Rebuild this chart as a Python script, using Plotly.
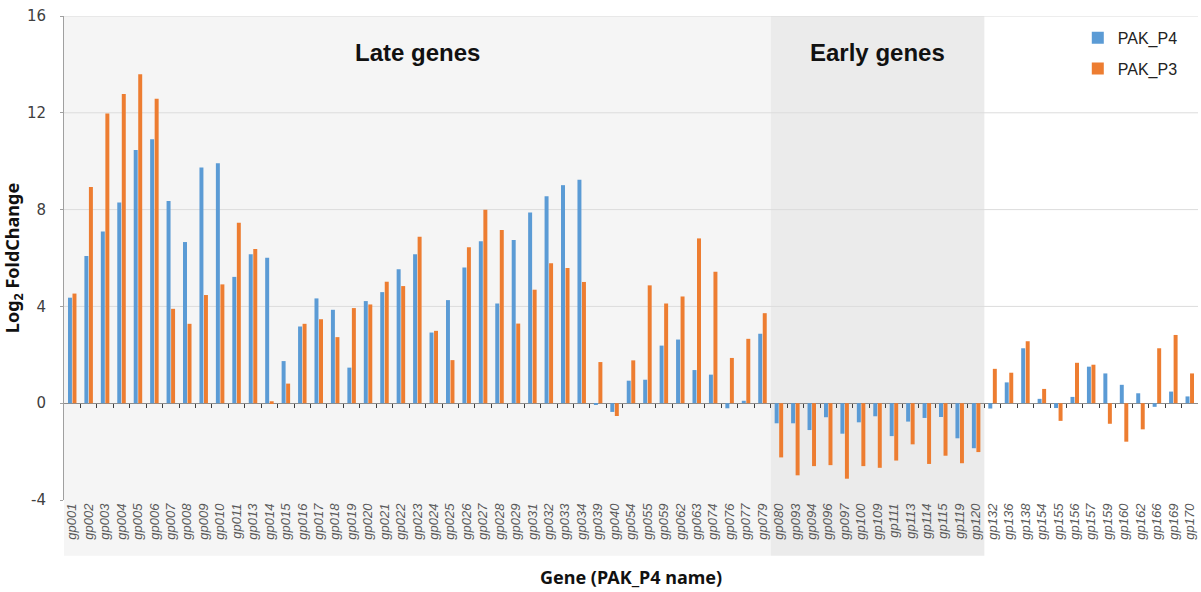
import plotly.graph_objects as go

# Gene groups (PAK_P4 gene names)
late_genes = ["gp001", "gp002", "gp003", "gp004", "gp005", "gp006", "gp007", "gp008",
              "gp009", "gp010", "gp011", "gp013", "gp014", "gp015", "gp016", "gp017",
              "gp018", "gp019", "gp020", "gp021", "gp022", "gp023", "gp024", "gp025",
              "gp026", "gp027", "gp028", "gp029", "gp031", "gp032", "gp033", "gp034",
              "gp039", "gp040", "gp054", "gp055", "gp059", "gp062", "gp063", "gp074",
              "gp076", "gp077", "gp079"]
early_genes = ["gp080", "gp093", "gp094", "gp096", "gp097", "gp100", "gp109", "gp111",
               "gp113", "gp114", "gp115", "gp119", "gp120"]
other_genes = ["gp132", "gp136", "gp138", "gp154", "gp155", "gp156", "gp157", "gp159",
               "gp160", "gp162", "gp166", "gp169", "gp170"]
genes = late_genes + early_genes + other_genes

# Log2 fold change per phage
pak_p4 = [4.36, 6.08, 7.09, 8.29, 10.46, 10.91, 8.36, 6.66, 9.74, 9.92, 5.22, 6.16,
          6.01, 1.74, 3.17, 4.33, 3.86, 1.47, 4.22, 4.59, 5.54, 6.15, 2.92, 4.26,
          5.61, 6.69, 4.12, 6.74, 7.88, 8.55, 9.01, 9.23, -0.07, -0.36, 0.93, 0.97,
          2.38, 2.63, 1.37, 1.18, -0.21, 0.10, 2.87,
          -0.83, -0.83, -1.11, -0.58, -1.26, -0.79, -0.54, -1.36, -0.76, -0.61, -0.57,
          -1.45, -1.86,
          -0.22, 0.86, 2.27, 0.18, -0.20, 0.26, 1.51, 1.23, 0.76, 0.41, -0.15, 0.48, 0.28]
pak_p3 = [4.53, 8.93, 11.97, 12.78, 13.59, 12.58, 3.90, 3.28, 4.47, 4.91, 7.46, 6.37,
          0.08, 0.81, 3.28, 3.47, 2.73, 3.93, 4.08, 5.02, 4.84, 6.88, 2.99, 1.78,
          6.44, 7.99, 7.16, 3.29, 4.69, 5.78, 5.59, 5.01, 1.70, -0.53, 1.77, 4.87,
          4.12, 4.41, 6.81, 5.43, 1.87, 2.66, 3.72,
          -2.24, -2.98, -2.60, -2.56, -3.12, -2.60, -2.67, -2.37, -1.70, -2.51, -2.17,
          -2.48, -2.02,
          1.42, 1.26, 2.56, 0.59, -0.73, 1.67, 1.59, -0.85, -1.59, -1.08, 2.27, 2.82, 1.23]

y_ticks = [-4, 0, 4, 8, 12, 16]

BLUE = "#5B9BD5"
ORANGE = "#ED7D31"

fig = go.Figure()
fig.add_trace(go.Bar(name="PAK_P4", x=genes, y=pak_p4, marker_color=BLUE,
                     marker_line_width=0, legendgroup="a"))
fig.add_trace(go.Bar(name="PAK_P3", x=genes, y=pak_p3, marker_color=ORANGE,
                     marker_line_width=0, legendgroup="b"))

# Shaded gene-class regions (category index boundaries)
n_late = len(late_genes)
n_early = len(early_genes)
late_span = (-0.5, n_late - 0.5)
early_span = (n_late - 0.5, n_late + n_early - 0.5)
for (x0, x1), col in [(late_span, "#f5f5f5"), (early_span, "#ebebeb")]:
    fig.add_shape(type="rect", xref="x", yref="paper", x0=x0, x1=x1, y0=-0.115, y1=1,
                  fillcolor=col, line_width=0, layer="below")

# Horizontal gridlines above the bottom of the axis range
for v in y_ticks:
    if v > y_ticks[0] and v != 0:
        fig.add_shape(type="line", xref="paper", yref="y", x0=0, x1=1, y0=v, y1=v,
                      line=dict(color="#dcdcdc", width=1), layer="below")

for label, (x0, x1) in [("Late genes", late_span), ("Early genes", early_span)]:
    fig.add_annotation(text="<b>" + label + "</b>", x=(x0 + x1) / 2, xref="x",
                       y=0.957, yref="paper", showarrow=False,
                       font=dict(family="Liberation Sans, Arial", size=24, color="#111111"))

fig.add_trace(go.Scatter(x=[None], y=[None], xaxis="x2", showlegend=False,
                         hoverinfo="skip"))

fig.update_layout(
    width=1201, height=592,
    margin=dict(l=64, r=3, t=16, b=92),
    paper_bgcolor="white", plot_bgcolor="white",
    barmode="group", bargap=0.45, bargroupgap=0.12,
    font=dict(family="Liberation Sans, Arial", color="#404040"),
    legend=dict(x=0.894, y=0.99, xanchor="left", yanchor="top",
                bgcolor="rgba(0,0,0,0)", tracegroupgap=7, itemwidth=30,
                font=dict(size=16, color="#222222")),
    showlegend=True,
    xaxis=dict(type="category", tickangle=-90, automargin=False,
               tickfont=dict(size=13, family="Liberation Sans", style="italic",
                             color="#595959"),
               showgrid=False, showline=False, ticks="",
               title=dict(text="<b>Gene (PAK_P4 name)</b>", standoff=32,
                          font=dict(size=18, family="Noto Sans", color="#111111")),
               range=[-0.5, len(genes) - 0.5]),
    # Tick marks along the zero line between categories
    xaxis2=dict(overlaying="x", anchor="free", position=0.2,
                range=[-0.5, len(genes) - 0.5], showgrid=False,
                zeroline=False, showline=False, ticks="outside",
                ticklen=4, tickcolor="#404040",
                tickvals=[i + 0.5 for i in range(len(genes) - 1)],
                showticklabels=False),
    yaxis=dict(range=[-4, 16], tickvals=y_ticks, ticktext=[str(v) for v in y_ticks],
               showgrid=False, automargin=False,
               zeroline=True, zerolinecolor="#8c8c8c", zerolinewidth=1,
               showline=True, linecolor="#a0a0a0", linewidth=1,
               ticks="outside", ticklen=3, tickcolor="#a0a0a0",
               ticklabelstandoff=11,
               tickfont=dict(size=15, family="DejaVu Sans", color="#404040"),
               title=dict(text="<b>Log<sub>2</sub> FoldChange</b>", standoff=2,
                          font=dict(size=18, family="Noto Sans", color="#111111"))),
)

fig.write_html("out.html")
